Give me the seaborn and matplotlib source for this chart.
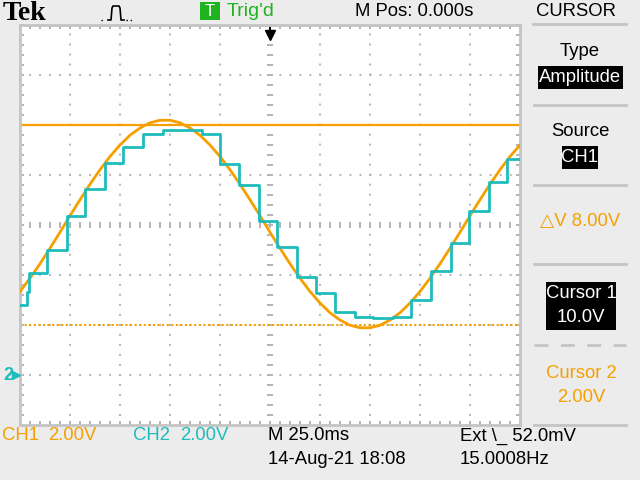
import numpy as np
import pandas as pd
import matplotlib
matplotlib.use("Agg")
import matplotlib.pyplot as plt
from matplotlib.lines import Line2D
from matplotlib.patches import Rectangle
import seaborn as sns

# CH1 (orange) sine: time in ms, volts
ch1_t = [-125, -120, -115, -110, -105, -100, -95, -90, -85, -80, -75, -70, -65,
         -60, -55, -50, -45, -40, -35, -30, -25, -20, -15, -10, -5, 0, 5, 10,
         15, 20, 25, 30, 35, 40, 45, 50, 55, 60, 65, 70, 75, 80, 85, 90, 95,
         100, 105, 110, 115, 120, 125]
ch1_v = [3.34, 3.87, 4.45, 5.07, 5.71, 6.37, 7.01, 7.63, 8.21, 8.74, 9.20, 9.59,
         9.88, 10.09, 10.19, 10.19, 10.09, 9.88, 9.59, 9.20, 8.74, 8.21, 7.63,
         7.01, 6.37, 5.71, 5.07, 4.45, 3.87, 3.34, 2.88, 2.49, 2.20, 1.99, 1.89,
         1.89, 1.99, 2.20, 2.49, 2.88, 3.34, 3.87, 4.45, 5.07, 5.71, 6.37, 7.01,
         7.63, 8.21, 8.74, 9.20]
# CH2 (cyan) staircase: step start times (ms) and levels (V)
ch2_t = [-125, -121.5, -120.5, -111.5, -101.5, -92.5, -82.5, -73.5, -63.5, -53.5,
         -34, -25, -15.5, -5.5, 3.5, 13.5, 23, 32.5, 42.5, 51.5, 61.5, 70.5,
         80.5, 90.5, 99.5, 109.5, 118.5, 125]
ch2_v = [2.80, 3.32, 4.08, 5.00, 6.36, 7.44, 8.48, 9.12, 9.64, 9.80, 9.64, 8.44,
         7.60, 6.16, 5.12, 3.92, 3.28, 2.52, 2.32, 2.28, 2.32, 3.00, 4.16, 5.28,
         6.56, 7.72, 8.64, 8.64]
cursor1_v = 10.0
cursor2_v = 2.0
grid_t = [-100, -75, -50, -25, 25, 50, 75, 100]
grid_v = [0, 2, 4, 8, 10, 12]

ORANGE = "#f5a000"
CYAN = "#1ebcbc"
GRID = "#b4b4b4"
BG = "#ececec"
SANS = ["Liberation Sans", "DejaVu Sans"]
FS = 13.3

fig = plt.figure(figsize=(6.4, 4.8), dpi=100, facecolor=BG)
W, H = 640.0, 480.0


def fx(x):
    return x / W


def fy(y):
    return 1 - y / H


def ftext(x, y, s, color="black", size=FS, ha="center", va="center", **kw):
    kw.setdefault("family", SANS)
    fig.text(fx(x), fy(y), s, color=color, fontsize=size, ha=ha, va=va, **kw)


def hline(x0, x1, y, color="#c4c4c4", lw=2, **kw):
    fig.add_artist(Line2D([fx(x0), fx(x1)], [fy(y), fy(y)], color=color, lw=lw,
                          transform=fig.transFigure, **kw))


def box(x0, y0, x1, y1, color="black"):
    fig.add_artist(Rectangle((fx(x0), fy(y1)), (x1 - x0) / W, (y1 - y0) / H,
                             transform=fig.transFigure, color=color, lw=0))


ax = fig.add_axes([20 / W, 55 / H, 500 / W, 400 / H])
ax.set_facecolor("white")
ax.set_xlim(-125, 125)
ax.set_ylim(-2, 14)

# graticule: edge ticks
ax.set_xticks(np.arange(-125, 126, 25))
ax.set_xticks(np.arange(-125, 126, 5), minor=True)
ax.set_yticks(np.arange(-2, 14.01, 2))
ax.set_yticks(np.arange(-2, 14.01, 0.4), minor=True)
ax.tick_params(which="both", direction="in", length=3.2, width=1.4, color=GRID,
               top=True, right=True, labelbottom=False, labelleft=False)
for sp in ax.spines.values():
    sp.set_color("#c4c4c4")
    sp.set_linewidth(2)
# dotted division lines
for t in grid_t:
    ax.axvline(t, color=GRID, lw=1.4, ls=(0.5, (1, 4.15)), zorder=1)
for v in grid_v:
    ax.axhline(v, color=GRID, lw=1.4, ls=(0.5, (1, 4.15)), zorder=1)
# centre lines with tick dashes
cx = np.arange(-120, 121, 5)
ax.plot(cx, np.full(cx.shape, 6.0), ls="none", marker="|", ms=4.5, mew=1.4,
        color=GRID, zorder=1)
cy = np.arange(-1.6, 13.7, 0.4)
ax.plot(np.zeros(cy.shape), cy, ls="none", marker="_", ms=4.5, mew=1.4,
        color=GRID, zorder=1)

# cursors
ax.axhline(cursor1_v, color=ORANGE, lw=1.6, zorder=2)
ax.axhline(cursor2_v, color=ORANGE, lw=1.5, ls=(0, (1, 1.2)), zorder=2)

df1 = pd.DataFrame({"t": ch1_t, "v": ch1_v})
df2 = pd.DataFrame({"t": ch2_t, "v": ch2_v})
sns.lineplot(data=df1, x="t", y="v", ax=ax, color=ORANGE, lw=2.0, zorder=3)
sns.lineplot(data=df2, x="t", y="v", ax=ax, color=CYAN, lw=2.0,
             drawstyle="steps-post", zorder=4)
ax.set_xlabel("")
ax.set_ylabel("")

# trigger arrow on top
fig.add_artist(Line2D([fx(270), fx(270)], [fy(28), fy(34)], color="black", lw=1.5,
                      transform=fig.transFigure))
fig.add_artist(Line2D([fx(270)], [fy(35)], marker="v", ms=7, color="black",
                      transform=fig.transFigure))

# ground marker
ftext(3, 375, "2", color=CYAN, size=13, ha="left", weight="bold")
fig.add_artist(Line2D([fx(16)], [fy(375)], marker=">", ms=6, color=CYAN,
                      transform=fig.transFigure))

# ---- top bar ----
ftext(3, 13, "Tek", size=20, ha="left", family=["Liberation Serif", "DejaVu Serif"],
      weight="bold")
fig.add_artist(Line2D([fx(p) for p in [101, 105]], [fy(20)] * 2, color="black",
                      lw=1, ls=(0, (1, 2)), transform=fig.transFigure))
fig.add_artist(Line2D([fx(p) for p in [108, 111, 112, 113, 119, 120, 121, 124]],
                      [fy(p) for p in [20, 20, 8, 6, 6, 8, 20, 20]],
                      color="black", lw=1.2, transform=fig.transFigure))
fig.add_artist(Line2D([fx(p) for p in [126, 134]], [fy(20)] * 2, color="black",
                      lw=1, ls=(0, (1, 2)), transform=fig.transFigure))
box(200, 2, 220, 20, color="#1fb31f")
ftext(210, 11.5, "T", color="white", size=12)
ftext(227, 12, "Trig'd", color="#1fb31f", ha="left", size=14)
ftext(414, 12, "M Pos: 0.000s")
ftext(576, 12, "CURSOR")
hline(533, 626, 24)

# ---- right panel ----
ftext(580, 52, "Type")
box(538, 66, 623, 89)
ftext(580, 77, "Amplitude", color="white")
hline(534, 626, 105)
ftext(580, 132, "Source")
box(562, 146, 598, 169)
ftext(580, 157, "CH1", color="white")
hline(534, 626, 185)
ftext(580, 222, "\u25b3V 8.00V", color=ORANGE)
hline(534, 626, 264)
box(546, 282, 616, 330)
ftext(581, 293, "Cursor 1", color="white")
ftext(581, 317, "10.0V", color="white")
hline(534, 626, 345, ls=(0, (5, 4.5)))
ftext(581, 373, "Cursor 2", color=ORANGE)
ftext(581, 397, "2.00V", color=ORANGE)
hline(534, 626, 425)

# ---- bottom bar ----
ftext(2, 436, "CH1", color=ORANGE, ha="left")
ftext(48, 436, "2.00V", color=ORANGE, ha="left")
ftext(133, 436, "CH2", color=CYAN, ha="left")
ftext(180, 436, "2.00V", color=CYAN, ha="left")
ftext(268, 436, "M 25.0ms", ha="left")
ftext(268, 459, "14-Aug-21 18:08", ha="left")
ftext(460, 436, "Ext \\_ 52.0mV", ha="left")
ftext(460, 459, "15.0008Hz", ha="left")

fig.savefig("out.png", dpi=100, facecolor=BG)
